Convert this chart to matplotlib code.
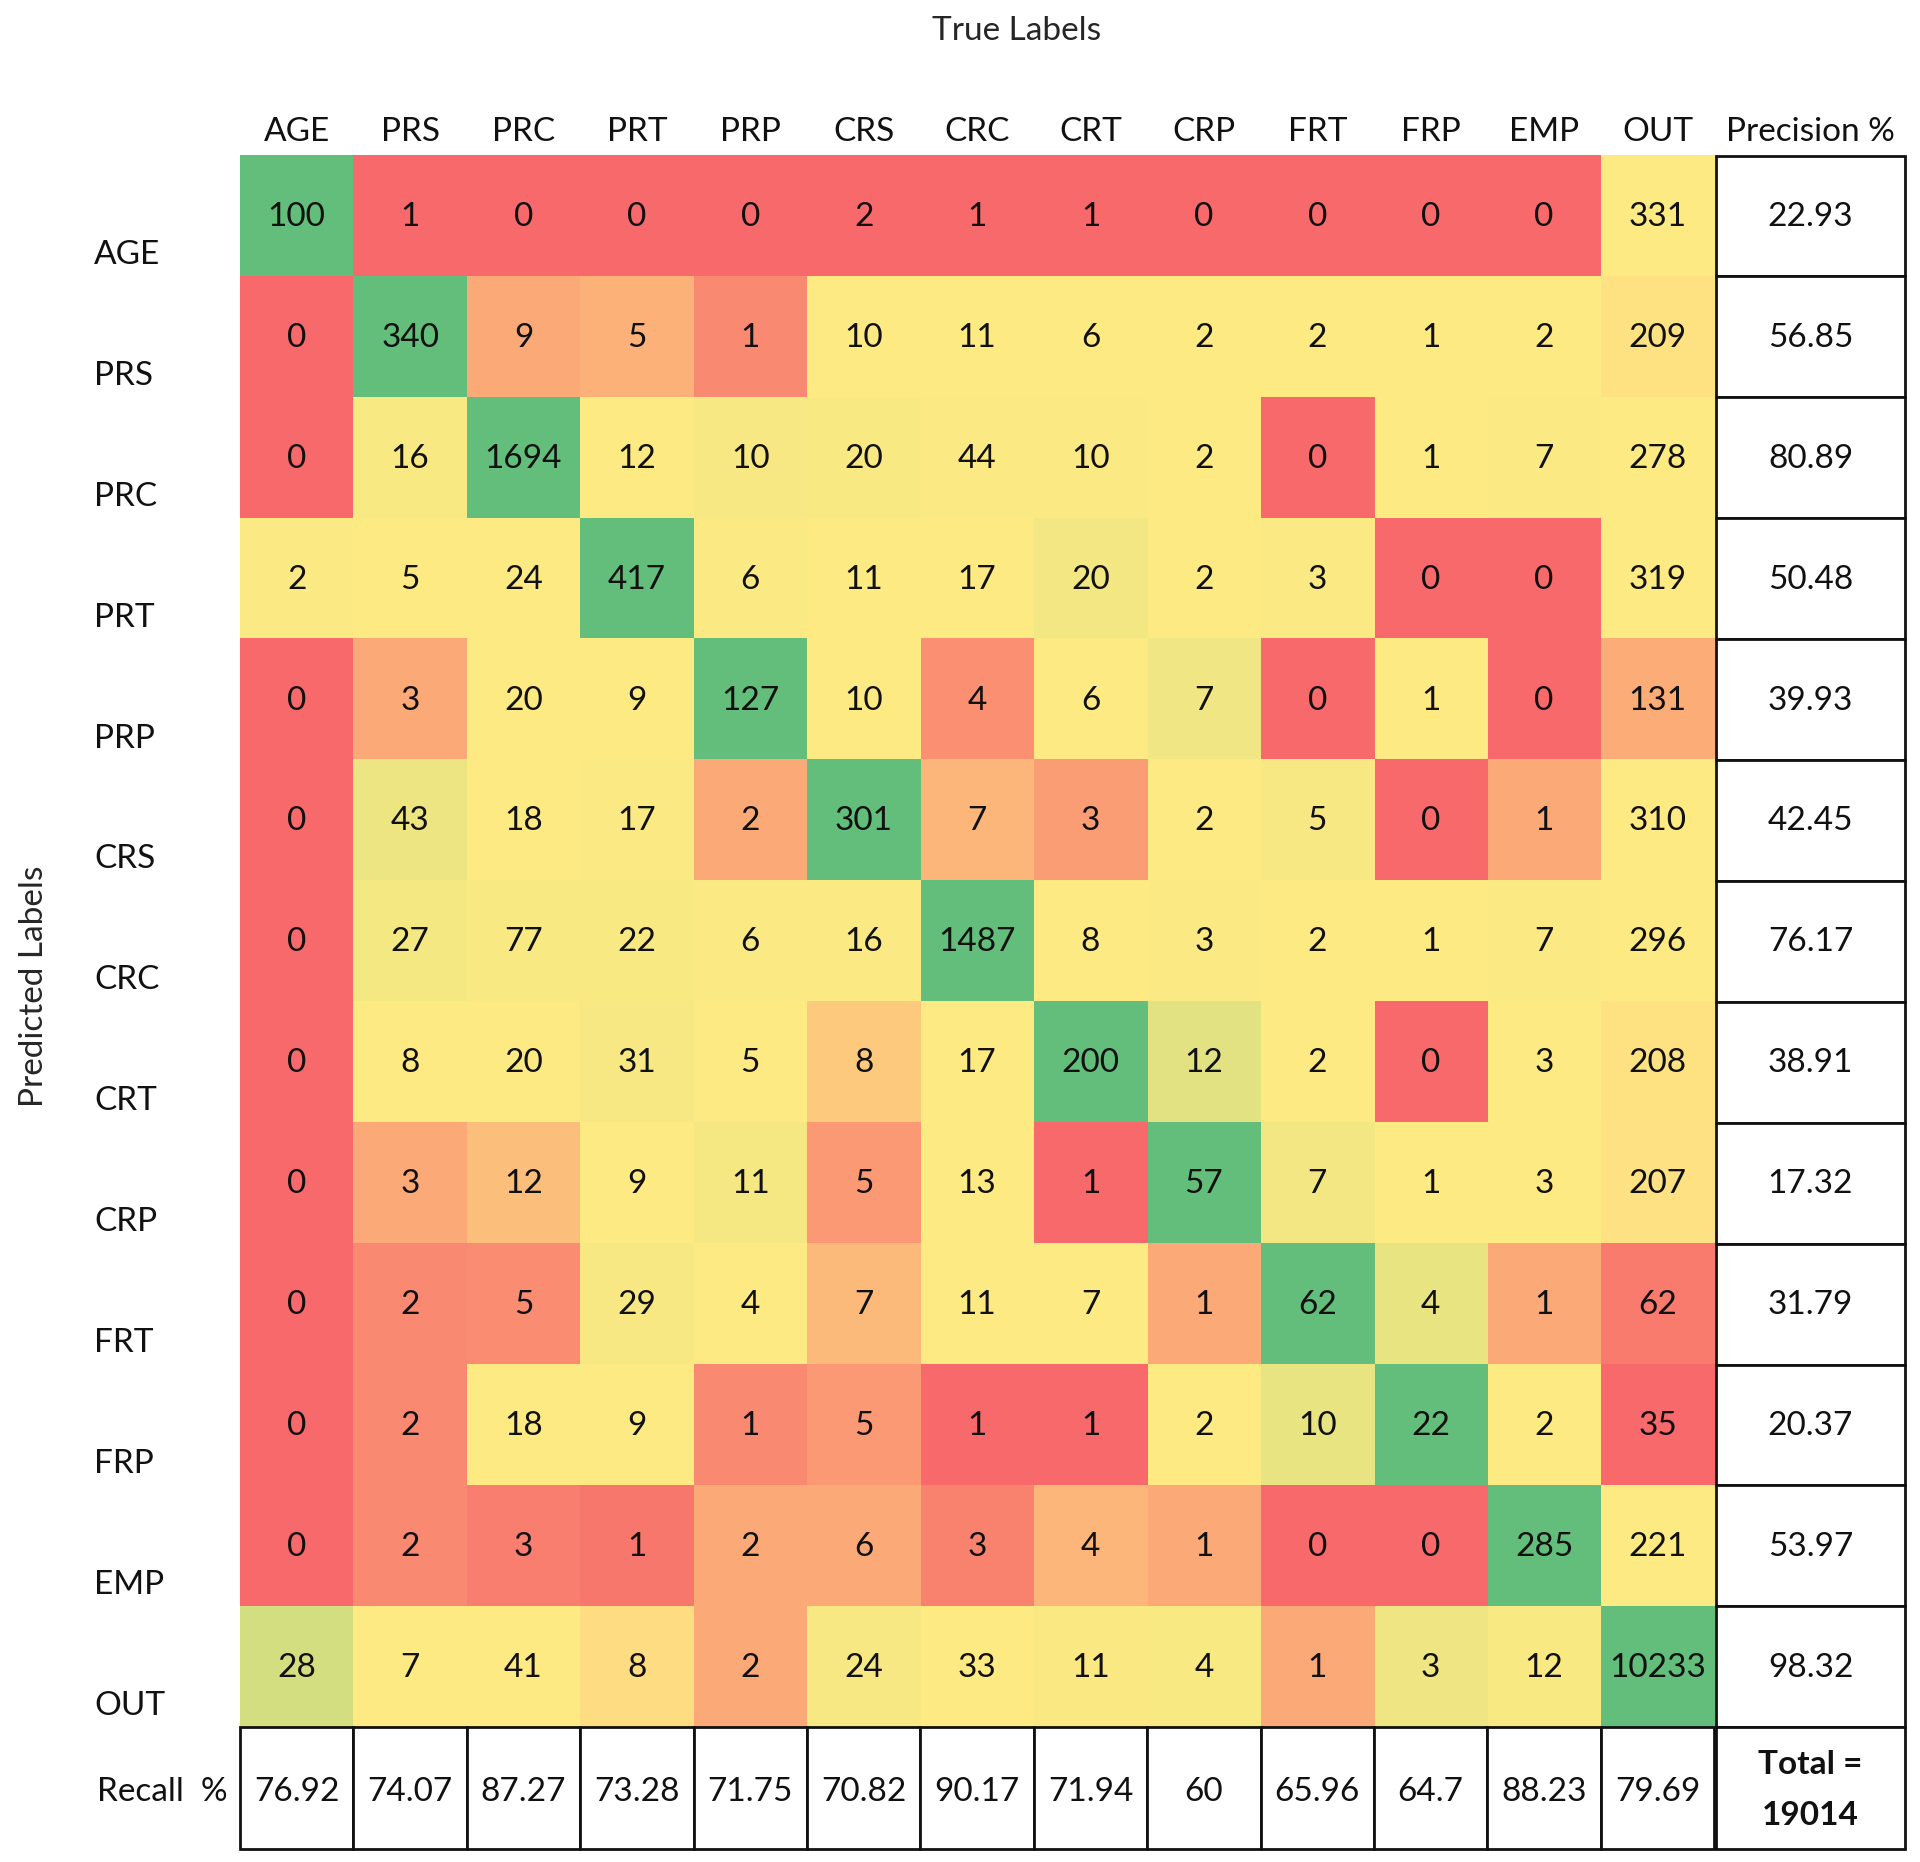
import matplotlib
matplotlib.use('Agg')
import matplotlib.pyplot as plt
from matplotlib.colors import LinearSegmentedColormap
from matplotlib.patches import Rectangle
import numpy as np

labels = ['AGE', 'PRS', 'PRC', 'PRT', 'PRP', 'CRS', 'CRC', 'CRT', 'CRP', 'FRT', 'FRP', 'EMP', 'OUT']

# rows = predicted, columns = true
counts = np.array([
    [100, 1, 0, 0, 0, 2, 1, 1, 0, 0, 0, 0, 331],
    [0, 340, 9, 5, 1, 10, 11, 6, 2, 2, 1, 2, 209],
    [0, 16, 1694, 12, 10, 20, 44, 10, 2, 0, 1, 7, 278],
    [2, 5, 24, 417, 6, 11, 17, 20, 2, 3, 0, 0, 319],
    [0, 3, 20, 9, 127, 10, 4, 6, 7, 0, 1, 0, 131],
    [0, 43, 18, 17, 2, 301, 7, 3, 2, 5, 0, 1, 310],
    [0, 27, 77, 22, 6, 16, 1487, 8, 3, 2, 1, 7, 296],
    [0, 8, 20, 31, 5, 8, 17, 200, 12, 2, 0, 3, 208],
    [0, 3, 12, 9, 11, 5, 13, 1, 57, 7, 1, 3, 207],
    [0, 2, 5, 29, 4, 7, 11, 7, 1, 62, 4, 1, 62],
    [0, 2, 18, 9, 1, 5, 1, 1, 2, 10, 22, 2, 35],
    [0, 2, 3, 1, 2, 6, 3, 4, 1, 0, 0, 285, 221],
    [28, 7, 41, 8, 2, 24, 33, 11, 4, 1, 3, 12, 10233],
])

precision = ['22.93', '56.85', '80.89', '50.48', '39.93', '42.45', '76.17',
             '38.91', '17.32', '31.79', '20.37', '53.97', '98.32']
recall = ['76.92', '74.07', '87.27', '73.28', '71.75', '70.82', '90.17',
          '71.94', '60', '65.96', '64.7', '88.23', '79.69']
total = 19014

# layout in pixels
x0, y0 = 240, 155.5
cw, rh = 113.4, 120.9
n = len(labels)
x1 = x0 + n * cw
y1 = y0 + n * rh
px0, px1 = 1716, 1905
ry1 = 1849

plt.rcParams['font.family'] = ['Lato', 'DejaVu Sans']
fs = 24
txt = '#111111'

# excel style 3-colour scale, per column: min red, median yellow, max green
cmap = LinearSegmentedColormap.from_list('excel', ['#F8696B', '#FFEB84', '#63BE7B'])


def scale_col(col):
    lo, mid, hi = col.min(), np.percentile(col, 50), col.max()
    out = np.zeros(len(col))
    for i, v in enumerate(col):
        if v <= mid:
            out[i] = 0.5 * (v - lo) / (mid - lo) if mid > lo else 0.0
        else:
            out[i] = 0.5 + 0.5 * (v - mid) / (hi - mid)
    return out


tvals = np.column_stack([scale_col(counts[:, j].astype(float)) for j in range(n)])
rgb = cmap(tvals)

fig = plt.figure(figsize=(19.2, 18.62), dpi=100)
ax = fig.add_axes([0, 0, 1, 1])
ax.set_xlim(0, 1920)
ax.set_ylim(1862, 0)
ax.axis('off')

ax.imshow(rgb, extent=(x0, x1, y1, y0), aspect='auto', interpolation='nearest')

for i in range(n):
    for j in range(n):
        ax.text(x0 + (j + 0.5) * cw, y0 + (i + 0.5) * rh + 1, str(counts[i, j]),
                ha='center', va='center', fontsize=fs, color=txt)

# column labels and row labels
for j, lab in enumerate(labels):
    ax.text(x0 + (j + 0.5) * cw, 132, lab, ha='center', va='center', fontsize=fs, color=txt)
for i, lab in enumerate(labels):
    ax.text(94, y0 + (i + 0.5) * rh + 39, lab, ha='left', va='center', fontsize=fs, color=txt)

ax.text((px0 + px1) / 2, 132, 'Precision %', ha='center', va='center', fontsize=fs, color=txt)

# precision column
for i, p in enumerate(precision):
    ax.add_patch(Rectangle((px0, y0 + i * rh), px1 - px0, rh, facecolor='white',
                           edgecolor='#111111', lw=2))
    ax.text((px0 + px1) / 2, y0 + (i + 0.5) * rh + 1, p, ha='center', va='center',
            fontsize=fs, color=txt)

# recall row
for j, r in enumerate(recall):
    ax.add_patch(Rectangle((x0 + j * cw, y1), cw, ry1 - y1, facecolor='white',
                           edgecolor='#111111', lw=2))
    ax.text(x0 + (j + 0.5) * cw, (y1 + ry1) / 2 + 4, r, ha='center', va='center',
            fontsize=fs, color=txt)
ax.add_patch(Rectangle((px0, y1), px1 - px0, ry1 - y1, facecolor='white',
                       edgecolor='#111111', lw=2))
ax.text((px0 + px1) / 2, (y1 + ry1) / 2 + 2, 'Total =\n%d' % total, ha='center', va='center',
        fontsize=fs, fontweight='bold', color=txt, linespacing=1.9)

ax.text(97, (y1 + ry1) / 2 + 4, 'Recall  %', ha='left', va='center', fontsize=fs, color=txt)

ax.text(1017, 31, 'True Labels', ha='center', va='center', fontsize=fs, color='#262626')
ax.text(34, 986, 'Predicted Labels', ha='center', va='center', rotation=90,
        fontsize=fs, color='#262626')

fig.savefig('out.png', dpi=100, facecolor='white')
